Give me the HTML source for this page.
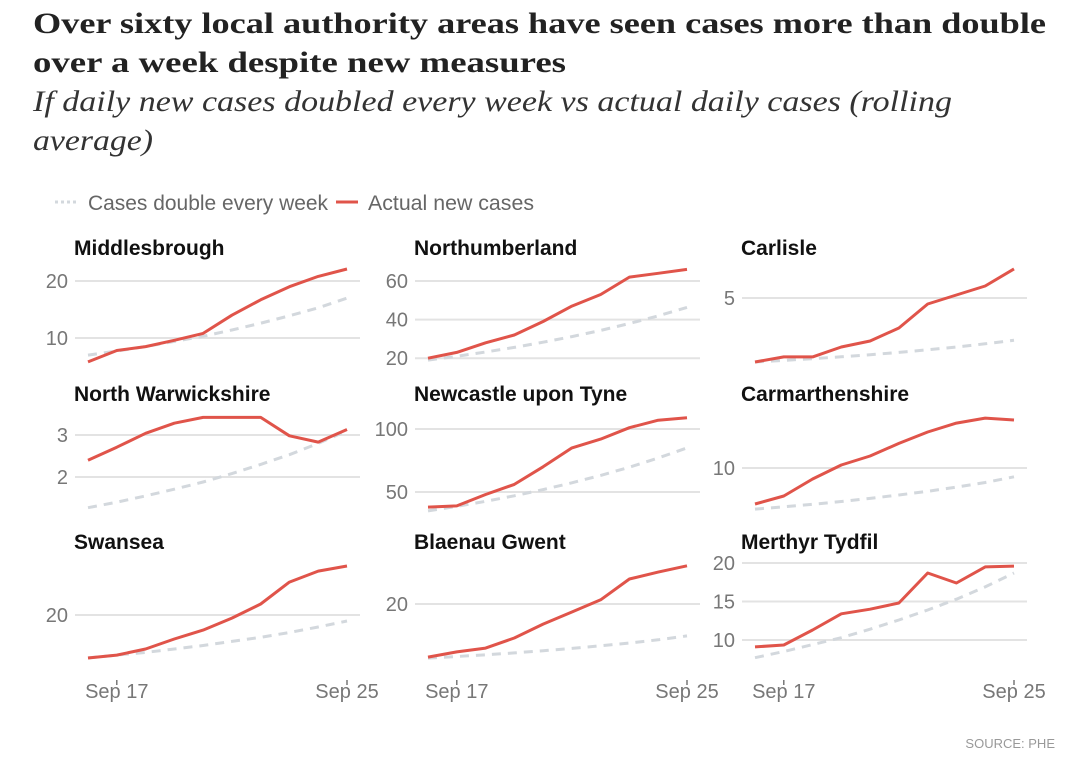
<!DOCTYPE html>
<html><head><meta charset="utf-8"><style>
html,body{margin:0;padding:0;background:#fff;}
svg{display:block;font-family:"Liberation Sans",sans-serif;}
</style></head><body>
<svg id="chart" width="1080" height="778" viewBox="0 0 1080 778">
<text x="33" y="33" font-family="Liberation Serif,serif" font-weight="bold" font-size="30" fill="#222" textLength="1013" lengthAdjust="spacingAndGlyphs">Over sixty local authority areas have seen cases more than double</text>
<text x="33" y="72" font-family="Liberation Serif,serif" font-weight="bold" font-size="30" fill="#222" textLength="533" lengthAdjust="spacingAndGlyphs">over a week despite new measures</text>
<text x="33" y="111" font-family="Liberation Serif,serif" font-style="italic" font-size="30" fill="#333" textLength="919" lengthAdjust="spacingAndGlyphs">If daily new cases doubled every week vs actual daily cases (rolling</text>
<text x="33" y="150" font-family="Liberation Serif,serif" font-style="italic" font-size="30" fill="#333" textLength="120" lengthAdjust="spacingAndGlyphs">average)</text>
<g>
<line x1="55" y1="202" x2="77" y2="202" stroke="#d3d8dd" stroke-width="3" stroke-dasharray="3,3"/>
<text x="88" y="210" font-size="21" fill="#666" textLength="240" lengthAdjust="spacingAndGlyphs">Cases double every week</text>
<line x1="336" y1="202" x2="358" y2="202" stroke="#e0544a" stroke-width="3"/>
<text x="368" y="210" font-size="21" fill="#666" textLength="166" lengthAdjust="spacingAndGlyphs">Actual new cases</text>
</g>
<text x="1055" y="748" text-anchor="end" font-size="13" fill="#999">SOURCE: PHE</text>
<g id="panels"></g>
</svg>
<script>
const days = ["Sep 16","Sep 17","Sep 18","Sep 19","Sep 20","Sep 21","Sep 22","Sep 23","Sep 24","Sep 25"];
const xTickLabels = ["Sep 17","Sep 25"];
const xTickIdx = [1, 9];
const areaNames = ["Middlesbrough","Northumberland","Carlisle","North Warwickshire","Newcastle upon Tyne","Carmarthenshire","Swansea","Blaenau Gwent","Merthyr Tydfil"];
const actualMiddlesbrough = [5.8,7.8,8.5,9.6,10.8,14,16.7,19,20.8,22.1];
const doubleMiddlesbrough = [7,7.7,8.5,9.4,10.3,11.4,12.6,13.9,15.3,17];
const actualNorthumberland = [20,23,28,32,39,47,53,62,64,66];
const doubleNorthumberland = [19,21,23.2,25.6,28.3,31.2,34.4,38,41.9,46.3];
const actualCarlisle = [0.95,1.27,1.27,1.9,2.28,3.1,4.62,5.19,5.76,6.84];
const doubleCarlisle = [0.95,1.05,1.16,1.28,1.41,1.56,1.72,1.9,2.1,2.32];
const actualNorthWarwickshire = [2.4,2.71,3.04,3.28,3.42,3.42,3.42,2.98,2.83,3.13];
const doubleNorthWarwickshire = [1.27,1.4,1.55,1.71,1.88,2.08,2.3,2.53,2.8,3.1];
const actualNewcastle = [38,39,48,56,70,85,92,101,107,109];
const doubleNewcastle = [35,38.6,42.6,47,51.9,57.3,63.2,69.7,77,85];
const actualCarmarthenshire = [4.3,5.57,8.26,10.47,11.9,13.9,15.7,17.1,17.9,17.6];
const doubleCarmarthenshire = [3.5,3.86,4.26,4.7,5.19,5.73,6.32,6.97,7.7,8.6];
const actualSwansea = [7.46,8.3,10.1,13.0,15.6,19.1,23.2,29.6,32.8,34.3];
const doubleSwansea = [7.5,8.3,9.1,10.1,11.1,12.3,13.5,14.9,16.5,18.25];
const actualBlaenauGwent = [4.7,6.2,7.3,10.2,14.2,17.7,21.2,27.2,29.2,31.0];
const doubleBlaenauGwent = [4.4,4.86,5.36,5.91,6.53,7.2,7.95,8.77,9.68,10.8];
const actualMerthyr = [9.1,9.35,11.3,13.4,14.0,14.8,18.7,17.4,19.5,19.6];
const doubleMerthyr = [7.7,8.5,9.4,10.3,11.4,12.6,13.9,15.3,16.9,18.7];
const yTicks = [[10,20],[20,40,60],[5],[2,3],[50,100],[10],[20],[20],[10,15,20]];

const actualSeries = [actualMiddlesbrough,actualNorthumberland,actualCarlisle,actualNorthWarwickshire,actualNewcastle,actualCarmarthenshire,actualSwansea,actualBlaenauGwent,actualMerthyr];
const doubleSeries = [doubleMiddlesbrough,doubleNorthumberland,doubleCarlisle,doubleNorthWarwickshire,doubleNewcastle,doubleCarmarthenshire,doubleSwansea,doubleBlaenauGwent,doubleMerthyr];
// scale: [value ref, pixel ref, px per unit]
const scales = [[20,281,5.7],[60,281,1.93],[5,298,15.8],[3,435,42],[100,429,1.26],[10,468,6.32],[20,615,3.43],[20,604,3.47],[20,563,7.7]];
const colX = [88,428,755];
const titleY = [247,393,541];
const NS = "http://www.w3.org/2000/svg";
const root = document.getElementById("panels");
function mk(tag, attrs, parent){const e=document.createElementNS(NS,tag);for(const k in attrs)e.setAttribute(k,attrs[k]);parent.appendChild(e);return e;}
const step = (347-88)/(days.length-1);
for(let p=0;p<9;p++){
  const col=p%3,row=Math.floor(p/3);
  const x0=colX[col];
  const xs=i=>x0+i*step;
  const [vr,pr,k]=scales[p];
  const ys=v=>pr-(v-vr)*k;
  const g=mk("g",{},root);
  
  
  const t=mk("text",{x:x0-14,y:titleY[row]+8,"font-size":"21","font-weight":"bold",fill:"#111"},g);
  t.textContent=areaNames[p];
  
  
  yTicks[p].forEach(v=>{
    const y=ys(v);
    const l=mk("line",{x1:x0-13,x2:x0+272,y1:y,y2:y,stroke:"#e3e3e3","stroke-width":"2"},g);
    
    
    const tx=mk("text",{x:x0-20,y:y+7,"text-anchor":"end","font-size":"20",fill:"#777"},g);
    tx.textContent=v;
    
    
  });
  const pts=a=>a.map((v,i)=>xs(i).toFixed(1)+","+ys(v).toFixed(1)).join(" ");
  const d=mk("polyline",{points:pts(doubleSeries[p]),fill:"none",stroke:"#d3d8dd","stroke-width":"3","stroke-dasharray":"9,7"},g);
  
  
  const a=mk("polyline",{points:pts(actualSeries[p]),fill:"none",stroke:"#e0544a","stroke-width":"3","stroke-linejoin":"round"},g);
  
  
  if(row===2){
    xTickIdx.forEach((idx,j)=>{
      const x=xs(idx);
      const tk=mk("line",{x1:x,x2:x,y1:680,y2:685,stroke:"#777","stroke-width":"1.5"},g);
      
      
      const lb=mk("text",{x:x,y:698,"text-anchor":"middle","font-size":"20",fill:"#777"},g);
      lb.textContent=xTickLabels[j];
      
      
    });
  }
}
</script>
</body></html>
